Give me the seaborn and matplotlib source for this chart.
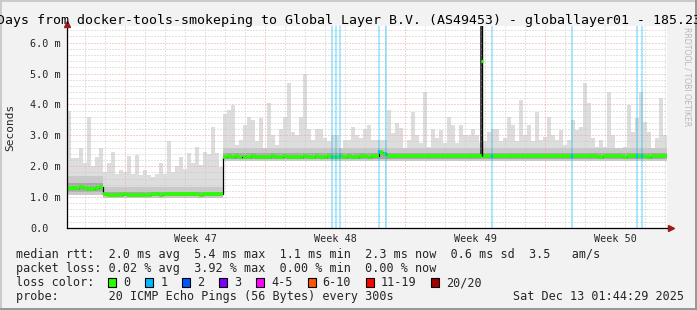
import numpy as np
import pandas as pd
import matplotlib
matplotlib.use("Agg")
import matplotlib.pyplot as plt
from matplotlib.patches import Rectangle
import seaborn as sns
from datetime import datetime, timedelta

# ---------------- data ----------------
end_time = datetime(2025, 12, 13, 1, 44, 29)
span_days = 30
bin_days = 0.2

median_ms = [
    1.30, 1.28, 1.30, 1.33, 1.28, 1.27, 1.25, 1.30, 1.34, 1.09,
    1.08, 1.08, 1.07, 1.08, 1.09, 1.08, 1.07, 1.08, 1.08, 1.07,
    1.08, 1.10, 1.09, 1.08, 1.09, 1.10, 1.09, 1.10, 1.11, 1.10,
    1.09, 1.10, 1.09, 1.08, 1.09, 1.10, 1.09, 1.10, 1.10, 2.31,
    2.32, 2.31, 2.32, 2.31, 2.30, 2.31, 2.32, 2.31, 2.31, 2.30,
    2.31, 2.32, 2.31, 2.31, 2.32, 2.31, 2.31, 2.30, 2.31, 2.32,
    2.31, 2.31, 2.32, 2.31, 2.31, 2.32, 2.31, 2.31, 2.32, 2.31,
    2.32, 2.31, 2.31, 2.32, 2.32, 2.31, 2.32, 2.33, 2.45, 2.40,
    2.32, 2.32, 2.33, 2.32, 2.32, 2.33, 2.32, 2.32, 2.33, 2.32,
    2.32, 2.33, 2.32, 2.32, 2.33, 2.32, 2.32, 2.33, 2.32, 2.32,
    2.33, 2.32, 2.32, 2.33, 2.32, 2.32, 2.33, 2.32, 2.32, 2.33,
    2.32, 2.32, 2.33, 2.32, 2.32, 2.33, 2.32, 2.33, 2.32, 2.32,
    2.32, 2.33, 2.32, 2.32, 2.33, 2.32, 2.32, 2.33, 2.32, 2.32,
    2.33, 2.32, 2.32, 2.31, 2.32, 2.32, 2.33, 2.32, 2.32, 2.31,
    2.32, 2.32, 2.33, 2.32, 2.32, 2.31, 2.32, 2.32, 2.33, 2.32,
]

max_ms = [
    3.80, 2.25, 2.25, 2.58, 2.10, 3.60, 2.00, 2.30, 2.58, 1.80,
    2.10, 2.47, 1.75, 1.87, 1.80, 2.33, 1.75, 2.36, 1.70, 1.87,
    1.70, 1.66, 1.75, 2.10, 1.75, 2.80, 1.80, 2.00, 2.30, 1.90,
    2.42, 2.10, 2.63, 2.04, 2.47, 2.38, 3.28, 2.42, 1.98, 3.68,
    3.82, 3.98, 2.69, 2.85, 3.33, 3.60, 3.50, 2.80, 3.55, 2.58,
    4.03, 3.00, 2.69, 3.22, 3.60, 4.70, 3.10, 3.00, 3.60, 5.00,
    3.20, 2.85, 3.20, 3.20, 2.90, 2.80, 3.00, 3.00, 2.60, 2.85,
    2.85, 3.28, 3.00, 2.90, 3.20, 3.33, 2.85, 2.85, 2.85, 2.85,
    3.82, 3.06, 3.39, 3.25, 2.58, 2.85, 3.77, 3.00, 2.74, 4.41,
    2.63, 3.22, 2.90, 3.17, 2.74, 3.60, 3.33, 2.74, 3.33, 3.00,
    3.00, 3.22, 3.00, 2.74, 2.80, 3.12, 3.22, 3.22, 2.80, 2.90,
    3.60, 3.33, 2.80, 4.14, 3.00, 3.33, 2.80, 3.77, 2.85, 2.96,
    3.60, 3.00, 2.85, 3.17, 2.69, 2.85, 3.50, 3.17, 3.28, 4.70,
    4.03, 2.90, 2.63, 2.85, 2.63, 4.41, 3.00, 2.58, 2.60, 2.63,
    3.98, 3.12, 3.55, 4.41, 3.44, 3.12, 2.60, 2.90, 4.20, 3.00,
]

# smoke bands per level segment
seg_start_day = [0.0, 1.8, 7.8]
seg_low_ms = [1.08, 0.98, 2.18]
seg_mid_ms = [1.68, 1.34, 2.60]
seg_dark_lo_ms = [1.16, 1.02, 2.24]
seg_dark_hi_ms = [1.46, 1.18, 2.42]

spike_day = [20.75]
spike_median_ms = [5.4]
spike_top_ms = [6.6]
spike_base_ms = [2.33]

loss_day = [13.275, 13.475, 13.65, 15.625, 15.975, 21.275, 25.275, 28.525, 28.775]

ytick_ms = [0, 1, 2, 3, 4, 5, 6]
ytick_labels = ["0.0", "1.0 m", "2.0 m", "3.0 m", "4.0 m", "5.0 m", "6.0 m"]

title_text = "30 Days from docker-tools-smokeping to Global Layer B.V. (AS49453) - globallayer01 - 185.23"
legend_lines = [
    "median rtt:  2.0 ms avg  5.4 ms max  1.1 ms min  2.3 ms now  0.6 ms sd  3.5   am/s",
    "packet loss: 0.02 % avg  3.92 % max  0.00 % min  0.00 % now",
    "loss color:",
    "probe:       20 ICMP Echo Pings (56 Bytes) every 300s",
]
date_text = "Sat Dec 13 01:44:29 2025"
loss_labels = ["0", "1", "2", "3", "4-5", "6-10", "11-19", "20/20"]
loss_colors = ["#26ff00", "#00b8ff", "#0059ff", "#7e00ff", "#ff00ff", "#ff5500", "#ff0000", "#a10000"]

# ---------------- figure ----------------
W, H = 697, 310
sns.set_theme(style="white")
plt.rcParams["font.family"] = ["DejaVu Sans Mono", "DejaVu Sans"]

fig = plt.figure(figsize=(W / 100, H / 100), dpi=100, facecolor="#f2f2f2")
ax_left, ax_right, ax_top, ax_bot = 66.5, 666.5, 26.0, 228.0
ax = fig.add_axes([ax_left / W, 1 - ax_bot / H, (ax_right - ax_left) / W, (ax_bot - ax_top) / H])
ax.set_facecolor("white")
ymax = (ax_bot - ax_top) / 30.9
ax.set_xlim(0, span_days)
ax.set_ylim(0, ymax)

n = len(median_ms)
t = np.arange(n) * bin_days
edges = np.append(t, span_days)
seg = np.searchsorted(seg_start_day, t + 1e-9, side="right") - 1
med = np.array(median_ms)
mx = np.array(max_ms)
low = np.array(seg_low_ms)[seg]
mid = np.minimum(np.array(seg_mid_ms)[seg], mx)
dlo = np.array(seg_dark_lo_ms)[seg]
dhi = np.array(seg_dark_hi_ms)[seg]

def ext(a):
    return np.append(a, a[-1])

ax.fill_between(edges, ext(low), ext(mx), step="post", color="#dddddd", lw=0, zorder=1)
ax.fill_between(edges, ext(low), ext(mid), step="post", color="#c9c9c9", lw=0, zorder=1.1)
ax.fill_between(edges, ext(dlo), ext(dhi), step="post", color="#a8a8a8", lw=0, zorder=1.2)

# grid
start_time = end_time - timedelta(days=span_days)
first_mid = datetime(start_time.year, start_time.month, start_time.day) + timedelta(days=1)
d = first_mid
week_mid = []
while d < end_time:
    off = (d - start_time).total_seconds() / 86400
    if d.weekday() == 6:
        ax.axvline(off, color="#f0a0a0", lw=0.72, ls=(0, (1, 2)), zorder=2)
        week_mid.append((off + 3.5, (d + timedelta(days=3)).strftime("Week %V")))
    else:
        ax.axvline(off, color="#c8c8c8", lw=0.72, ls=(0, (1, 2)), zorder=2)
    d += timedelta(days=1)
for k in range(1, int(ymax / 0.2) + 1):
    v = k * 0.2
    if k % 5 == 0:
        ax.axhline(v, color="#f0a0a0", lw=0.72, ls=(0, (1, 2)), zorder=2)
    else:
        ax.axhline(v, color="#c8c8c8", lw=0.72, ls=(0, (1, 2)), zorder=2)

# loss bars
for ld in loss_day:
    ax.axvspan(ld - 0.05, ld + 0.05, color="#00b8ff", alpha=0.33, lw=0, zorder=3)

# spike
for sd, sm, st, sb in zip(spike_day, spike_median_ms, spike_top_ms, spike_base_ms):
    ax.fill_between([sd - 0.06, sd + 0.06], sb, st, color="#4a4a4a", lw=0, zorder=1.3)
    ax.vlines(sd + 0.03, sb, st, color="black", lw=1.0, zorder=4.2)
    ax.hlines(sm, sd - 0.03, sd + 0.06, color="#26ff00", lw=2.4, zorder=4.3)

# median line: thin black steps + green level segments
df = pd.DataFrame({"day": edges, "median": ext(med)})
sns.lineplot(data=df, x="day", y="median", drawstyle="steps-post", color="black",
             lw=0.9, estimator=None, ax=ax, zorder=3.5)
ax.hlines(med, t, t + bin_days, color="#26ff00", lw=2.6, zorder=4)
for ld in loss_day:
    i = int(ld / bin_days)
    ax.hlines(med[i], ld - 0.05, ld + 0.05, color="#00b8ff", lw=2.6, zorder=4.5)

# axes styling
for s in ["top", "right"]:
    ax.spines[s].set_visible(False)
for s in ["left", "bottom"]:
    ax.spines[s].set_color("black")
    ax.spines[s].set_linewidth(0.9)
    ax.spines[s].set_zorder(5)
ax.plot([1.0, 1.008], [0, 0], color="black", lw=0.9, transform=ax.transAxes, clip_on=False, zorder=5)
ax.plot([0], [1.01], marker="^", ms=5, color="#9b1b1b", transform=ax.transAxes, clip_on=False, zorder=6)
ax.plot([1.008], [0], marker=">", ms=5, color="#9b1b1b", transform=ax.transAxes, clip_on=False, zorder=6)

ax.set_yticks(ytick_ms)
ax.set_yticklabels(ytick_labels, fontsize=7.3)
for lab in ax.get_yticklabels():
    lab.set_ha("left")
ax.tick_params(axis="y", length=0, pad=(ax_left - 30) * 0.72)
ax.set_xticks([w[0] for w in week_mid])
ax.set_xticklabels([w[1] for w in week_mid], fontsize=7.3)
ax.tick_params(axis="x", length=0, pad=4.0)
ax.set_xlabel("")
ax.set_ylabel("Seconds", fontsize=8.0)
ax.yaxis.set_label_coords((15 - ax_left) / (ax_right - ax_left), 0.5)

# title
fig.text(-27.0 / W, 1 - 24 / H, title_text, fontsize=9.55, va="baseline", ha="left", color="black")
fig.text(687 / W, 1 - 27 / H, "RRDTOOL / TOBI OETIKER", fontsize=5.6, rotation=270,
         va="top", ha="center", color="#b8b8b8", family="DejaVu Sans")

# legend block
base = [258, 272, 286, 300]
for line, b in zip(legend_lines, base):
    fig.text(16 / W, 1 - b / H, line, fontsize=8.5, va="baseline", ha="left")
fig.text(513.3 / W, 1 - 300 / H, date_text, fontsize=8.5, va="baseline", ha="left")
xb = 108.3
for lab, col in zip(loss_labels, loss_colors):
    fig.patches.append(Rectangle((xb / W, 1 - 286.7 / H), 8 / W, 8.4 / H, transform=fig.transFigure,
                                 facecolor=col, edgecolor="black", lw=0.8))
    fig.text((xb + 15) / W, 1 - 286 / H, lab, fontsize=8.5, va="baseline", ha="left")
    xb += 29.9 + len(lab) * 7.1

# 3D border
fig.patches.append(Rectangle((0, 1 - 2 / H), 1, 2 / H, transform=fig.transFigure, facecolor="#cbcbcb", lw=0))
fig.patches.append(Rectangle((0, 0), 2 / W, 1, transform=fig.transFigure, facecolor="#cbcbcb", lw=0))
fig.patches.append(Rectangle((0, 0), 1, 2 / H, transform=fig.transFigure, facecolor="#999999", lw=0))
fig.patches.append(Rectangle((1 - 2 / W, 0), 2 / W, 1, transform=fig.transFigure, facecolor="#999999", lw=0))

fig.savefig("out.png", dpi=100, facecolor=fig.get_facecolor())
